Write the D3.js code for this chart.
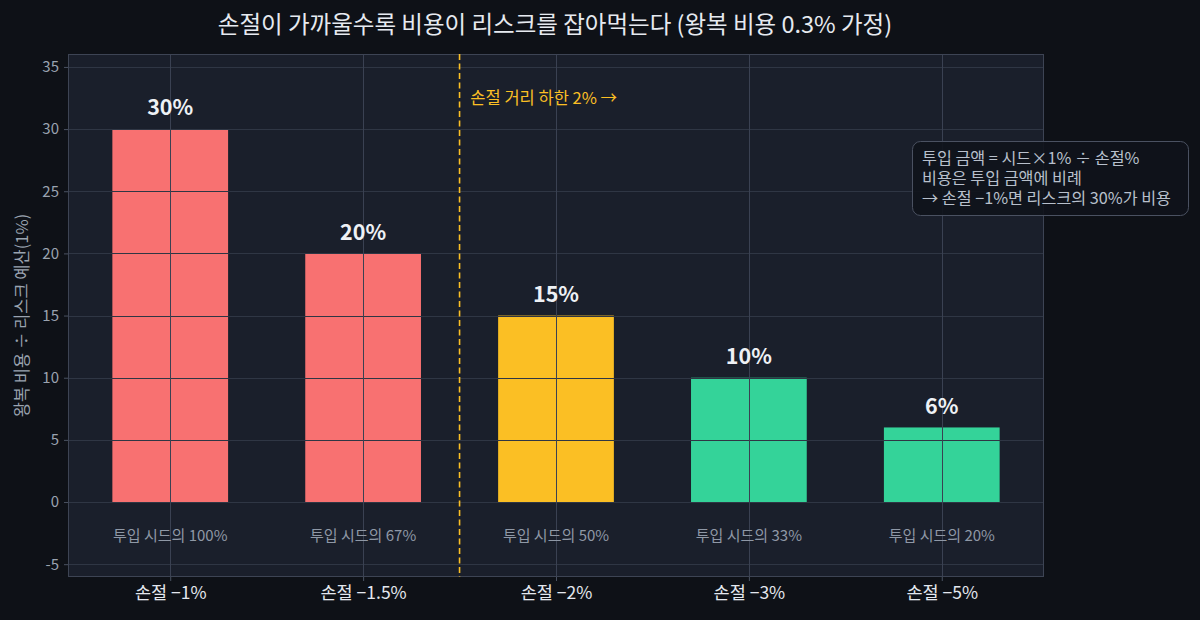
<!DOCTYPE html>
<html>
<head>
<meta charset="utf-8">
<script src="https://cdn.jsdelivr.net/npm/d3@7"></script>
<style>
  html, body { margin: 0; padding: 0; background: #0e1117; }
  svg { display: block; font-family: "Noto Sans CJK KR", "Noto Sans", sans-serif; }
</style>
</head>
<body>
<svg id="chart" width="1200" height="620"></svg>
<script>
// data
var categories = ["손절 −1%", "손절 −1.5%", "손절 −2%", "손절 −3%", "손절 −5%"];
var costRatio = [30, 20, 15, 10, 6];
var seedShare = ["투입 시드의 100%", "투입 시드의 67%", "투입 시드의 50%", "투입 시드의 33%", "투입 시드의 20%"];
var barColors = ["#f87171", "#f87171", "#fbbf24", "#34d399", "#34d399"];
var yTicks = [-5, 0, 5, 10, 15, 20, 25, 30, 35];
var noteLines = ["투입 금액 = 시드×1% ÷ 손절%", "비용은 투입 금액에 비례", "→ 손절 −1%면 리스크의 30%가 비용"];

(function () {
  var svg = d3.select("#chart");
  var left = 68, right = 1044, top = 54, bottom = 577;

  var x = d3.scaleLinear().domain([-0.53, 4.53]).range([left, right]);
  var y = d3.scaleLinear().domain([-6.03, 36.04]).range([bottom, top]);
  var barW = x(0.6) - x(0);

  // axes background
  svg.append("rect")
    .attr("x", left).attr("y", top)
    .attr("width", right - left).attr("height", bottom - top)
    .attr("fill", "#1a1f2b");

  // bars
  svg.selectAll("rect.bar")
    .data(costRatio)
    .enter().append("rect")
    .attr("class", "bar")
    .attr("x", function (d, i) { return x(i) - barW / 2; })
    .attr("y", function (d) { return y(d); })
    .attr("width", barW)
    .attr("height", function (d) { return y(0) - y(d); })
    .attr("fill", function (d, i) { return barColors[i]; });

  // grid on top of bars
  var grid = svg.append("g").attr("stroke", "#2f3644").attr("stroke-width", 1);
  yTicks.forEach(function (t) {
    grid.append("line").attr("x1", left).attr("x2", right)
      .attr("y1", Math.round(y(t)) + 0.5).attr("y2", Math.round(y(t)) + 0.5);
  });
  categories.forEach(function (c, i) {
    grid.append("line").attr("y1", top).attr("y2", bottom)
      .attr("x1", Math.round(x(i)) + 0.5).attr("x2", Math.round(x(i)) + 0.5)
      .attr("stroke", "#3a4152");
  });

  // axes
  var yAxis = svg.append("g")
    .attr("transform", "translate(" + left + ",0)")
    .call(d3.axisLeft(y).tickValues(yTicks).tickFormat(function (d) { return String(d); })
      .tickSize(4).tickPadding(5));
  var xAxis = svg.append("g")
    .attr("transform", "translate(0," + bottom + ")")
    .call(d3.axisBottom(x).tickValues(d3.range(categories.length))
      .tickFormat(function (i) { return categories[i]; }).tickSize(4).tickPadding(6));
  yAxis.select(".domain").remove();
  xAxis.select(".domain").remove();
  yAxis.selectAll("line").attr("stroke", "#4a5262");
  xAxis.selectAll("line").attr("stroke", "#4a5262");
  yAxis.selectAll("text").attr("fill", "#9aa3b0").attr("font-size", 15)
    .attr("font-family", "Noto Sans CJK KR");
  xAxis.selectAll("text").attr("fill", "#e3e7ee").attr("font-size", 17.5)
    .attr("font-family", "Noto Sans CJK KR");

  // frame
  svg.append("rect")
    .attr("x", left + 0.5).attr("y", top + 0.5)
    .attr("width", right - left - 1).attr("height", bottom - top - 1)
    .attr("fill", "none").attr("stroke", "#3d4454");

  // value labels
  svg.selectAll("text.val")
    .data(costRatio)
    .enter().append("text")
    .attr("class", "val")
    .attr("x", function (d, i) { return x(i); })
    .attr("y", function (d) { return y(d + 1.1); })
    .attr("text-anchor", "middle")
    .attr("fill", "#eef1f5")
    .attr("font-size", 21.5).attr("font-weight", "bold")
    .text(function (d) { return d + "%"; });

  // seed share labels
  svg.selectAll("text.seed")
    .data(seedShare)
    .enter().append("text")
    .attr("class", "seed")
    .attr("x", function (d, i) { return x(i); })
    .attr("y", y(-2.75))
    .attr("dy", "0.35em")
    .attr("text-anchor", "middle")
    .attr("fill", "#8f98a6")
    .attr("font-size", 15)
    .text(function (d) { return d; });

  // threshold line
  svg.append("line")
    .attr("x1", x(1.5)).attr("x2", x(1.5))
    .attr("y1", top).attr("y2", bottom)
    .attr("stroke", "#fbbf24").attr("stroke-width", 1.6)
    .attr("stroke-dasharray", "6,3.5");
  svg.append("text")
    .attr("x", x(1.556)).attr("y", y(32.5))
    .attr("dy", "0.35em")
    .attr("fill", "#fbbf24").attr("font-size", 16.5)
    .text("손절 거리 하한 2% →");

  // note box
  var note = svg.append("g");
  note.append("rect")
    .attr("x", 912.5).attr("y", 141.5).attr("width", 276).attr("height", 74)
    .attr("rx", 8)
    .attr("fill", "#0f131b").attr("fill-opacity", 0.9)
    .attr("stroke", "#4a5161").attr("stroke-width", 1);
  note.selectAll("text")
    .data(noteLines)
    .enter().append("text")
    .attr("x", 922)
    .attr("y", function (d, i) { return 158 + i * 20; })
    .attr("dy", "0.35em")
    .attr("fill", "#b8c0cc").attr("font-size", 16.2)
    .text(function (d) { return d; });

  // y label
  svg.append("text")
    .attr("transform", "translate(22," + (top + bottom) / 2 + ") rotate(-90)")
    .attr("text-anchor", "middle")
    .attr("dy", "0.35em")
    .attr("fill", "#9aa3b0").attr("font-size", 16.5)
    .text("왕복 비용 ÷ 리스크 예산(1%)");

  // title
  svg.append("text")
    .attr("x", 555).attr("y", 25)
    .attr("dy", "0.35em")
    .attr("text-anchor", "middle")
    .attr("fill", "#e6eaf0").attr("font-size", 23.5)
    .text("손절이 가까울수록 비용이 리스크를 잡아먹는다 (왕복 비용 0.3% 가정)");
})();
</script>
</body>
</html>
